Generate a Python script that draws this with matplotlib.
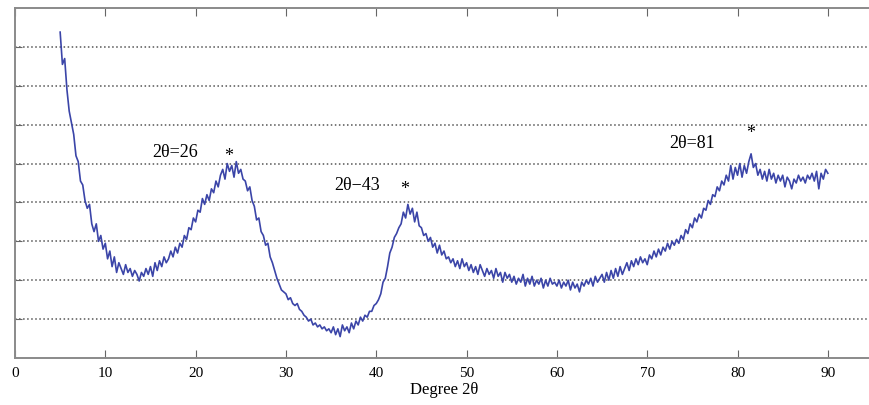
import matplotlib
matplotlib.use("Agg")
import matplotlib.pyplot as plt
import numpy as np

plt.rcParams['font.family'] = ['Liberation Serif', 'DejaVu Serif']

# scan: 5 to 90 degrees, step 0.25
scan_start, scan_stop, scan_step = 5.0, 90.0, 0.25
intensity = [
    8.38, 7.55, 7.70, 6.90, 6.35, 6.05, 5.75, 5.20, 5.05, 4.55, 4.45, 4.05, 3.85, 3.95, 3.45, 3.25, 3.45, 3.00, 3.15, 2.80,
    2.95, 2.55, 2.75, 2.35, 2.60, 2.20, 2.45, 2.30, 2.15, 2.40, 2.20, 2.30, 2.10, 2.25, 2.15, 1.98, 2.20, 2.10, 2.30, 2.15,
    2.35, 2.10, 2.45, 2.25, 2.50, 2.35, 2.60, 2.45, 2.55, 2.75, 2.60, 2.85, 2.70, 2.95, 2.85, 3.15, 3.05, 3.35, 3.30, 3.60,
    3.50, 3.80, 3.75, 4.10, 3.95, 4.20, 4.05, 4.35, 4.25, 4.55, 4.40, 4.70, 4.85, 4.60, 5.00, 4.80, 4.95, 4.65, 5.05, 4.75,
    4.85, 4.60, 4.55, 4.30, 4.40, 4.05, 3.90, 3.55, 3.60, 3.25, 3.15, 2.90, 2.95, 2.60, 2.45, 2.25, 2.05, 1.90, 1.75, 1.70,
    1.65, 1.50, 1.55, 1.40, 1.35, 1.40, 1.25, 1.20, 1.10, 1.05, 0.95, 1.00, 0.85, 0.90, 0.80, 0.85, 0.75, 0.80, 0.70, 0.75,
    0.65, 0.80, 0.60, 0.75, 0.55, 0.85, 0.70, 0.80, 0.65, 0.90, 0.75, 0.95, 0.85, 1.05, 0.95, 1.10, 1.05, 1.20, 1.20, 1.35,
    1.40, 1.50, 1.65, 1.95, 2.05, 2.35, 2.70, 2.85, 3.10, 3.20, 3.35, 3.45, 3.75, 3.60, 3.95, 3.70, 3.85, 3.50, 3.75, 3.40,
    3.35, 3.15, 3.20, 3.00, 3.10, 2.85, 2.95, 2.70, 2.90, 2.65, 2.75, 2.55, 2.60, 2.45, 2.55, 2.35, 2.50, 2.30, 2.55, 2.35,
    2.45, 2.25, 2.40, 2.20, 2.35, 2.15, 2.40, 2.25, 2.10, 2.30, 2.15, 2.25, 2.05, 2.30, 2.10, 2.20, 1.95, 2.20, 2.05, 2.15,
    1.95, 2.10, 1.90, 2.05, 1.95, 2.15, 1.85, 2.05, 1.90, 2.10, 1.85, 2.00, 1.90, 2.05, 1.80, 2.00, 1.85, 2.05, 1.90, 1.95,
    1.85, 2.00, 1.80, 1.95, 1.85, 2.00, 1.75, 1.95, 1.80, 1.90, 1.70, 1.95, 1.85, 2.00, 1.90, 2.05, 1.85, 2.10, 1.95, 2.05,
    2.15, 1.95, 2.20, 2.00, 2.25, 2.05, 2.30, 2.10, 2.35, 2.15, 2.30, 2.45, 2.25, 2.50, 2.35, 2.55, 2.40, 2.60, 2.45, 2.55,
    2.40, 2.65, 2.55, 2.75, 2.60, 2.80, 2.65, 2.85, 2.75, 2.95, 2.80, 3.00, 2.90, 3.05, 2.95, 3.15, 3.05, 3.30, 3.20, 3.45,
    3.35, 3.60, 3.50, 3.70, 3.60, 3.85, 3.80, 4.05, 3.95, 4.20, 4.15, 4.40, 4.30, 4.55, 4.45, 4.70, 4.55, 4.95, 4.60, 4.90,
    4.70, 5.00, 4.65, 4.95, 4.75, 5.05, 5.25, 4.90, 5.00, 4.70, 4.85, 4.60, 4.80, 4.55, 4.85, 4.60, 4.75, 4.50, 4.70, 4.55,
    4.70, 4.40, 4.65, 4.55, 4.35, 4.60, 4.50, 4.70, 4.55, 4.65, 4.50, 4.70, 4.60, 4.75, 4.55, 4.80, 4.35, 4.75, 4.60, 4.85,
    4.75,
]
two_theta = np.arange(scan_start, scan_stop + scan_step / 2, scan_step)

peak_labels = ["2θ=26", "2θ−43", "2θ=81"]
peak_label_xy = [(17.7, 5.3), (37.9, 4.45), (75.0, 5.55)]
peak_star_xy = [(23.6, 5.2), (43.1, 4.35), (81.5, 5.8)]

fig = plt.figure(figsize=(8.69, 4.06), dpi=100)
ax = fig.add_axes([15 / 869, 47 / 406, 858 / 869, 350 / 406])

ax.plot(two_theta, intensity, color='#3b45a8', linewidth=1.2)

for txt, (tx, ty), (sx, sy) in zip(peak_labels, peak_label_xy, peak_star_xy):
    ax.text(tx, ty, txt, fontsize=13, ha='center', va='center')
    ax.text(sx, sy, '*', fontsize=13, ha='center', va='center')

ax.set_xlim(0, 95)
ax.set_ylim(0, 9)
ax.set_xticks(range(0, 91, 10))
ax.set_yticks(range(1, 9))
ax.set_yticklabels([])
ax.grid(axis='y', linestyle=':', color='#555555', linewidth=1.1)
ax.tick_params(axis='x', direction='in', top=True, length=6, color='#666666',
               labelsize=11, pad=6)
ax.tick_params(axis='y', direction='in', length=5, color='#666666')
for s in ax.spines.values():
    s.set_color('#8a8a8a')
    s.set_linewidth(1.4)
ax.spines['right'].set_visible(False)
ax.set_xlabel('Degree 2θ', fontsize=12, labelpad=1)

fig.savefig('out.png', dpi=100)
